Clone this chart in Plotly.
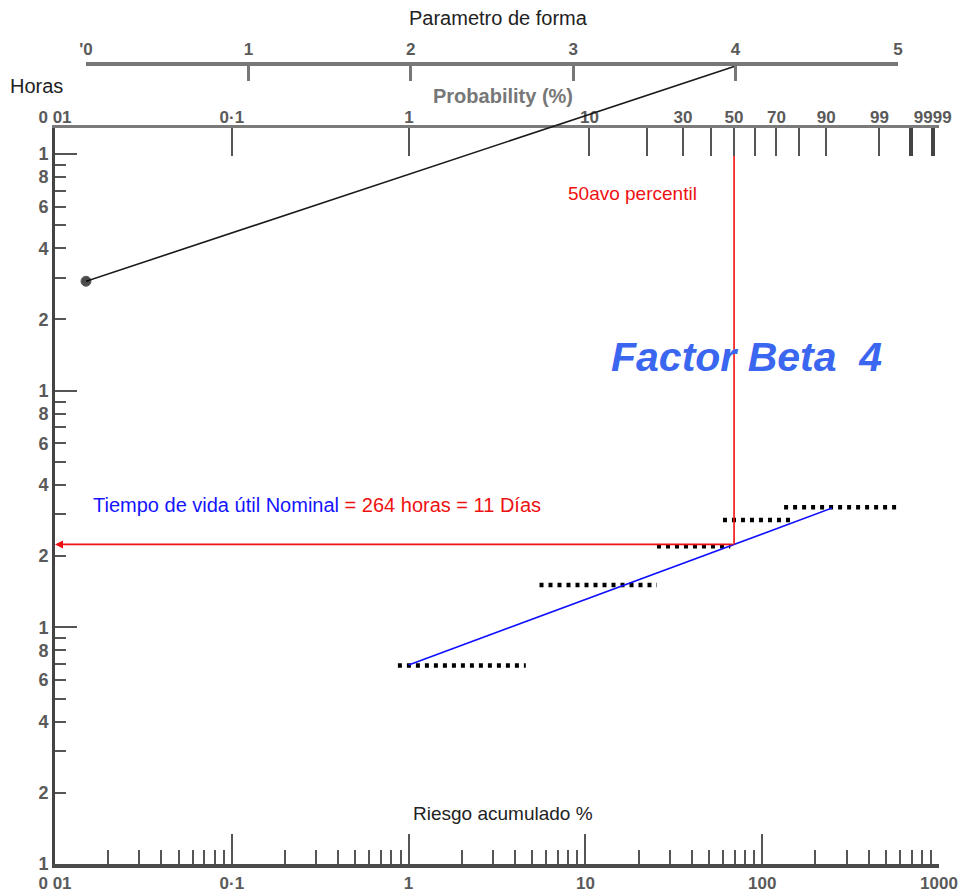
import math
import plotly.graph_objects as go

W, H = 968, 894

# ---------------- data ----------------
# Failure steps: cumulative hazard interval (%) and hours value of each step
STEP_START = [0.87, 5.5, 25.4, 60.0, 133.0]
STEP_END = [4.6, 25.4, 66.0, 153.0, 578.0]
STEP_HOURS = [6.9, 15.1, 22.0, 28.4, 32.2]

# Fitted line (cumulative hazard %, hours)
FIT_HAZARD = [1.0, 248.0]
FIT_HOURS = [6.93, 31.9]

# Median (50th percentile) probability
MEDIAN_PROB = 50.0

# Estimation line: from the estimation point (shape 0) to the shape reading
ESTIMATION_SHAPE = [0, 4]
ESTIMATION_HOURS = 290.0

# Axis ticks
HOUR_DECADES = [1, 10, 100, 1000]
HOUR_LABELED = [1, 2, 4, 6, 8, 10, 20, 40, 60, 80, 100, 200, 400, 600, 800, 1000]
HOUR_TEXT = ["1", "2", "4", "6", "8"] * 3 + ["1"]
HOUR_MINOR = [3, 5, 7, 9, 30, 50, 70, 90, 300, 500, 700, 900]

RISK_DECADES = [0.01, 0.1, 1, 10, 100, 1000]
RISK_TEXT = ["0 01", "0·1", "1", "10", "100", "1000"]
RISK_MINOR = [m * d for d in [0.01, 0.1, 1, 10, 100] for m in range(2, 10)]

PROB_VALUES = [0.01, 0.1, 1, 10, 20, 30, 40, 50, 60, 70, 80, 90, 99]
PROB_TEXT = ["0 01", "0·1", "1", "10", "", "30", "", "50", "", "70", "", "90", "99"]
PROB_HEAVY = [99.9, 99.99]
PROB_HEAVY_TEXT = ["", "9999"]

SHAPE_TICKS = [0, 1, 2, 3, 4, 5]
SHAPE_TEXT = ["'0", "1", "2", "3", "4", "5"]

# ---------------- layout geometry (pixels) ----------------
X_LEFT, X_RIGHT = 55, 939
Y_BOTTOM, Y_TOP = 864, 128
SHAPE_LEFT, SHAPE_RIGHT, SHAPE_Y = 86, 898, 66

X_RANGE = [-2, 3]
Y_RANGE = [0, 3.11]
DECADE_PX = (Y_BOTTOM - Y_TOP) / (Y_RANGE[1] - Y_RANGE[0])
Y3_TOP = (Y_BOTTOM - SHAPE_Y) / DECADE_PX


def fx(p):
    return p / W


def fy(p):
    return 1 - p / H


def hazard(prob):
    """Cumulative hazard (%) for a cumulative probability (%)."""
    return -100.0 * math.log(1 - prob / 100.0)


median_hazard = hazard(MEDIAN_PROB)
lx0, lx1 = math.log10(FIT_HAZARD[0]), math.log10(FIT_HAZARD[1])
ly0, ly1 = math.log10(FIT_HOURS[0]), math.log10(FIT_HOURS[1])
t = (math.log10(median_hazard) - lx0) / (lx1 - lx0)
nominal_hours = 10 ** (ly0 + t * (ly1 - ly0))

TICK_FONT = dict(family="Liberation Sans", size=18, color="#5a5a5a", weight="bold")
TEXT_FONT = "Liberation Sans"

fig = go.Figure()

# dotted failure steps
sx, sy = [], []
for a, b, h in zip(STEP_START, STEP_END, STEP_HOURS):
    sx += [a, b, None]
    sy += [h, h, None]
fig.add_trace(go.Scatter(
    x=sx, y=sy, mode="lines", xaxis="x", yaxis="y",
    line=dict(color="black", width=4.5, dash="4px,5px"),
    showlegend=False, hoverinfo="skip"))

# fitted line
fig.add_trace(go.Scatter(
    x=FIT_HAZARD, y=FIT_HOURS, mode="lines", xaxis="x", yaxis="y",
    line=dict(color="#1010ff", width=1.6),
    showlegend=False, hoverinfo="skip"))

# 50th percentile vertical
fig.add_trace(go.Scatter(
    x=[median_hazard, median_hazard], y=[nominal_hours, 10 ** Y_RANGE[1]],
    mode="lines", xaxis="x", yaxis="y",
    line=dict(color="#ee1111", width=1.6),
    showlegend=False, hoverinfo="skip"))

# estimation line up to the shape-parameter scale
fig.add_trace(go.Scatter(
    x=ESTIMATION_SHAPE, y=[ESTIMATION_HOURS, 10 ** Y3_TOP],
    mode="lines+markers", xaxis="x3", yaxis="y3",
    line=dict(color="#1a1a1a", width=1.6),
    marker=dict(size=[10, 0], color="black"),
    showlegend=False, hoverinfo="skip", cliponaxis=False))

# empty traces so that every overlay axis is registered
for xa, ya in [("x2", "y"), ("x4", "y"), ("x5", "y"), ("x", "y4")]:
    fig.add_trace(go.Scatter(x=[], y=[], xaxis=xa, yaxis=ya,
                             showlegend=False, hoverinfo="skip"))

x_dom = [fx(X_LEFT), fx(X_RIGHT)]
y_dom = [fy(Y_BOTTOM), fy(Y_TOP)]

common_x = dict(type="log", range=X_RANGE, showgrid=False, zeroline=False,
                fixedrange=True, automargin=False)
common_y = dict(type="log", range=Y_RANGE, showgrid=False, zeroline=False,
                fixedrange=True, automargin=False)

fig.update_layout(
    width=W, height=H,
    margin=dict(l=0, r=0, t=0, b=0, autoexpand=False),
    paper_bgcolor="white",
    plot_bgcolor="rgba(0,0,0,0)",
    showlegend=False,
    # bottom: cumulative hazard decades
    xaxis=dict(**common_x, domain=x_dom, anchor="y", side="bottom",
               showline=True, linecolor="#4a4a4a", linewidth=3.5,
               tickmode="array", tickvals=RISK_DECADES, ticktext=RISK_TEXT,
               ticks="inside", ticklen=30, tickwidth=2, tickcolor="#555",
               tickfont=dict(TICK_FONT, size=17), ticklabelstandoff=1),
    # bottom: minor ticks
    xaxis4=dict(**common_x, overlaying="x", anchor="y", side="bottom",
                showline=False, tickmode="array", tickvals=RISK_MINOR,
                ticktext=[""] * len(RISK_MINOR), ticks="inside", ticklen=14,
                tickwidth=2, tickcolor="#555", showticklabels=False),
    # top: probability scale
    xaxis2=dict(**common_x, overlaying="x", anchor="y", side="top",
                showline=True, linecolor="#7a7a7a", linewidth=3,
                tickmode="array", tickvals=[hazard(p) for p in PROB_VALUES],
                ticktext=PROB_TEXT, ticks="inside", ticklen=28, tickwidth=2,
                tickcolor="#555", tickfont=dict(TICK_FONT, size=17),
                ticklabelstandoff=-5),
    xaxis5=dict(**common_x, overlaying="x", anchor="y", side="top",
                showline=False, tickmode="array",
                tickvals=[hazard(p) for p in PROB_HEAVY],
                ticktext=PROB_HEAVY_TEXT, ticks="inside", ticklen=28,
                tickwidth=4, tickcolor="#444",
                tickfont=dict(TICK_FONT, size=17), ticklabelstandoff=1),
    # shape parameter scale
    xaxis3=dict(domain=[fx(SHAPE_LEFT), fx(SHAPE_RIGHT)], anchor="y3",
                side="top", range=[0, 5], showgrid=False, zeroline=False,
                showline=True, linecolor="#777", linewidth=4,
                tickmode="array", tickvals=SHAPE_TICKS, ticktext=SHAPE_TEXT,
                ticks="inside", ticklen=15, tickwidth=3, tickcolor="#777",
                tickfont=dict(TICK_FONT, size=17), ticklabelstandoff=0,
                fixedrange=True, automargin=False),
    yaxis3=dict(type="log", domain=[fy(Y_BOTTOM), fy(SHAPE_Y)],
                range=[Y_RANGE[0], Y3_TOP], anchor="x3", visible=False,
                fixedrange=True, automargin=False),
    # left: hours
    yaxis=dict(**common_y, domain=y_dom, anchor="x", side="left",
               showline=True, linecolor="#444", linewidth=3,
               tickmode="array", tickvals=HOUR_LABELED + HOUR_MINOR,
               ticktext=HOUR_TEXT + [""] * len(HOUR_MINOR),
               ticks="inside", ticklen=11, tickwidth=2, tickcolor="#555",
               tickfont=TICK_FONT, ticklabelstandoff=0),
    yaxis4=dict(**common_y, overlaying="y", anchor="x", side="left",
                showline=False, tickmode="array", tickvals=HOUR_DECADES,
                ticktext=[""] * len(HOUR_DECADES), ticks="inside",
                ticklen=22, tickwidth=2, tickcolor="#555",
                showticklabels=False),
)


def label(text, x, y, size, color, xanchor="center", **font):
    return dict(text=text, x=fx(x), y=fy(y), xref="paper", yref="paper",
                xanchor=xanchor, yanchor="middle", showarrow=False,
                font=dict(family=TEXT_FONT, size=size, color=color, **font))


annotations = [
    label("Parametro de forma", 498, 18, 20, "#222"),
    label("Horas", 8, 86, 20, "#222", xanchor="left"),
    label("Probability (%)", 503, 96, 20, "#777", weight="bold"),
    label("Riesgo acumulado %", 503, 813, 19, "#222"),
    label("50avo percentil", 566, 194, 19, "#ee1111", xanchor="left"),
    label("Factor Beta\u00a0\u00a04", 609, 357, 41, "#3a66f0",
          xanchor="left", weight="bold", style="italic"),
    label("<span style='color:#1414ff'>Tiempo de vida útil Nominal</span>"
          "<span style='color:#ee1111'> = 264 horas = 11 Días</span>",
          91, 505, 20, "#1414ff", xanchor="left"),
    # horizontal reading arrow towards the hours axis
    dict(x=X_RANGE[0], y=math.log10(nominal_hours), xref="x", yref="y",
         ax=math.log10(median_hazard), ay=math.log10(nominal_hours),
         axref="x", ayref="y", text="", showarrow=True, arrowhead=2,
         arrowsize=1.0, arrowwidth=1.6, arrowcolor="#ee1111", standoff=0),
]
fig.update_layout(annotations=annotations)

fig.write_html("out.html")
